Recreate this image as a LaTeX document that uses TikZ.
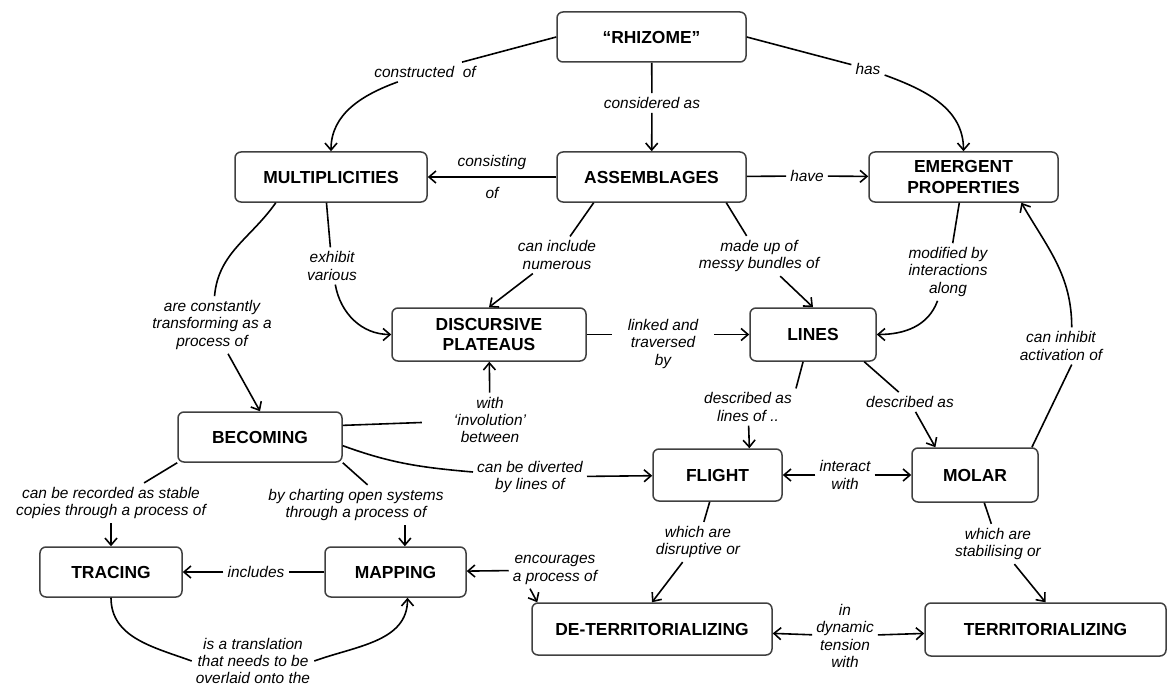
\documentclass[tikz,border=0pt]{standalone}
\usepackage{fontspec}
\setmainfont{Liberation Sans}
\usetikzlibrary{arrows.meta}

\begin{document}
\begin{tikzpicture}[x=1bp, y=1bp, >={Straight Barb[length=7bp,width=12bp]},
  concept/.style={draw=black!75, line width=1.5bp, rounded corners=6bp, minimum height=50bp, align=center, inner sep=2bp, font=\bfseries\fontsize{17.5}{21}\selectfont},
  link/.style={align=center, inner sep=4bp, font=\itshape\fontsize{15.5}{17.5}\selectfont}]
\useasboundingbox (0,0) rectangle (1167,-687);

\node[concept, minimum width=189bp] (rhizome) at (651.5, -37) {“RHIZOME”};
\node[concept, minimum width=192bp] (mult) at (331, -177) {MULTIPLICITIES};
\node[concept, minimum width=189bp] (assem) at (651.5, -177) {ASSEMBLAGES};
\node[concept, minimum width=189bp] (emerg) at (963.5, -177) {EMERGENT\\PROPERTIES};
\node[concept, minimum width=194bp, minimum height=53bp] (plateaus) at (489, -334.5) {DISCURSIVE\\PLATEAUS};
\node[concept, minimum width=126bp, minimum height=53bp] (lines) at (813, -334.5) {LINES};
\node[concept, minimum width=164bp] (becoming) at (260, -437) {BECOMING};
\node[concept, minimum width=129bp, minimum height=52bp] (flight) at (717.5, -475) {FLIGHT};
\node[concept, minimum width=126bp, minimum height=54bp] (molar) at (975, -475) {MOLAR};
\node[concept, minimum width=142bp] (tracing) at (111, -572) {TRACING};
\node[concept, minimum width=141bp] (mapping) at (395.5, -572) {MAPPING};
\node[concept, minimum width=240bp, minimum height=52bp] (deterr) at (652, -629) {DE-TERRITORIALIZING};
\node[concept, minimum width=241bp, minimum height=53bp] (territ) at (1045.5, -629.5) {TERRITORIALIZING};

%linking phrases
\node[link] (l_constructed) at (425, -72) {constructed\ \ of};
\node[link] (l_considered) at (652, -103) {considered as};
\node[link] (l_has) at (868, -69) {has};
\node[link] (l_have) at (807, -176) {have};
\node[link] (l_exhibit) at (332, -266) {exhibit\\various};
\node[link] (l_transforming) at (212, -325) {are constantly\\transforming as a\\process of};
\node[link] (l_include) at (557, -255) {can include\\numerous};
\node[link] (l_madeup) at (759, -256) {made up of\\messy bundles of};
\node[link] (l_modified) at (948, -272) {modified by\\interactions\\along};
\node[link] (l_linked) at (663, -344) {linked and\\traversed\\by};
\node[link] (l_inhibit) at (1061, -346) {can inhibit\\activation of};
\node[link] (l_involution) at (490, -420) {with\\‘involution’\\between};
\node[link] (l_diverted) at (530, -477) {can be diverted\\by lines of};
\node[link] (l_recorded) at (111, -503) {can be recorded as stable\\copies through a process of};
\node[link] (l_charting) at (356, -505) {by charting open systems\\through a process of};
\node[link] (l_includes) at (256, -572) {includes};
\node[link] (l_encourages) at (555, -570) {encourages\\a process of};
\node[link] (l_translation) at (253, -661) {is a translation\\that needs to be\\overlaid onto the};
\node[link] (l_linesof) at (748, -407) {described as\\lines of ..};
\node[link] (l_describedas) at (910, -402) {described as};
\node[link] (l_interact) at (845, -475) {interact\\with};
\node[link] (l_disruptive) at (698, -542) {which are\\disruptive or};
\node[link] (l_stabilising) at (998, -544) {which are\\stabilising or};
\node[link] (l_tension) at (845, -636) {in\\dynamic\\tension\\with};

%connections
\draw[ultra thick] (rhizome.west) to (l_constructed);
\draw[->,ultra thick] (l_constructed) to[out=200,in=90] (mult);
\draw[ultra thick] (rhizome.east) to (l_has);
\draw[->,ultra thick] (l_has) to[out=-20,in=90] (emerg);
\draw[ultra thick] (rhizome) to (l_considered);
\draw[->,ultra thick] (l_considered) to (assem);
\draw[->,ultra thick] (assem) to node[link] (l_consisting) {consisting\\[14.5bp]of} (mult);
\draw[ultra thick] (assem) to (l_have);
\draw[->,ultra thick] (l_have) to (emerg);
\draw[ultra thick] (mult.-155) to[out=-125,in=85] (l_transforming);
\draw[->,ultra thick] (l_transforming) to (becoming.north);
\draw[ultra thick] (mult.-100) to (l_exhibit);
\draw[->,ultra thick] (l_exhibit) to[out=-80,in=180] (plateaus);
\draw[ultra thick] (assem.-156) to (l_include);
\draw[->,ultra thick] (l_include) to (plateaus.north);
\draw[ultra thick] (assem.-19) to (l_madeup);
\draw[->,ultra thick] (l_madeup) to (lines.north);
\draw[ultra thick] (emerg) to (l_modified);
\draw[->,ultra thick] (l_modified) to[out=-110,in=0] (lines);
\draw[ultra thick, shorten >=12bp] (plateaus.east) to (plateaus.east -| l_linked.west);
\draw[->,ultra thick, shorten <=12bp] (l_linked.east |- lines.west) to (lines.west);
\draw[ultra thick] (molar.26) to (l_inhibit.-60);
\draw[->,ultra thick] (l_inhibit.60) to[out=90,in=-60] (emerg.-24);
\draw[ultra thick, shorten >=28bp] (becoming.8) to (l_involution);
\draw[->,ultra thick] (l_involution) to (plateaus);
\draw[ultra thick] (becoming.-6) to[out=-20,in=175] (l_diverted);
\draw[->,ultra thick] (l_diverted) to (flight);
\draw[ultra thick] (becoming.south west) to (l_recorded);
\draw[->,ultra thick] (l_recorded) to (tracing);
\draw[ultra thick] (becoming.south east) to (l_charting.60);
\draw[->,ultra thick] (l_charting.south -| mapping.70) to (mapping.70);
\draw[ultra thick] (mapping) to (l_includes);
\draw[->,ultra thick] (l_includes) to (tracing);
\draw[->,ultra thick] (l_encourages) to (mapping);
\draw[->,ultra thick] ([xshift=-25bp]l_encourages.south) to ([xshift=6bp]deterr.north west);
\draw[ultra thick] (tracing) to[out=-90,in=160] (l_translation.west);
\draw[->,ultra thick] (l_translation.east) to[out=20,in=-90] (mapping.-65);
\draw[ultra thick] (lines.-110) to (l_linesof.north east);
\draw[->,ultra thick] (l_linesof) to (flight.40);
\draw[ultra thick] (lines.-28) to (l_describedas);
\draw[->,ultra thick] (l_describedas) to (molar.145);
\draw[->,ultra thick] (l_interact) to (flight);
\draw[->,ultra thick] (l_interact) to (molar);
\draw[ultra thick] (flight) to (l_disruptive);
\draw[->,ultra thick] (l_disruptive) to (deterr.north);
\draw[ultra thick] (molar) to (l_stabilising);
\draw[->,ultra thick] (l_stabilising) to (territ.north);
\draw[->,ultra thick] (l_tension) to (deterr);
\draw[->,ultra thick] (l_tension) to (territ);
\end{tikzpicture}
\end{document}
